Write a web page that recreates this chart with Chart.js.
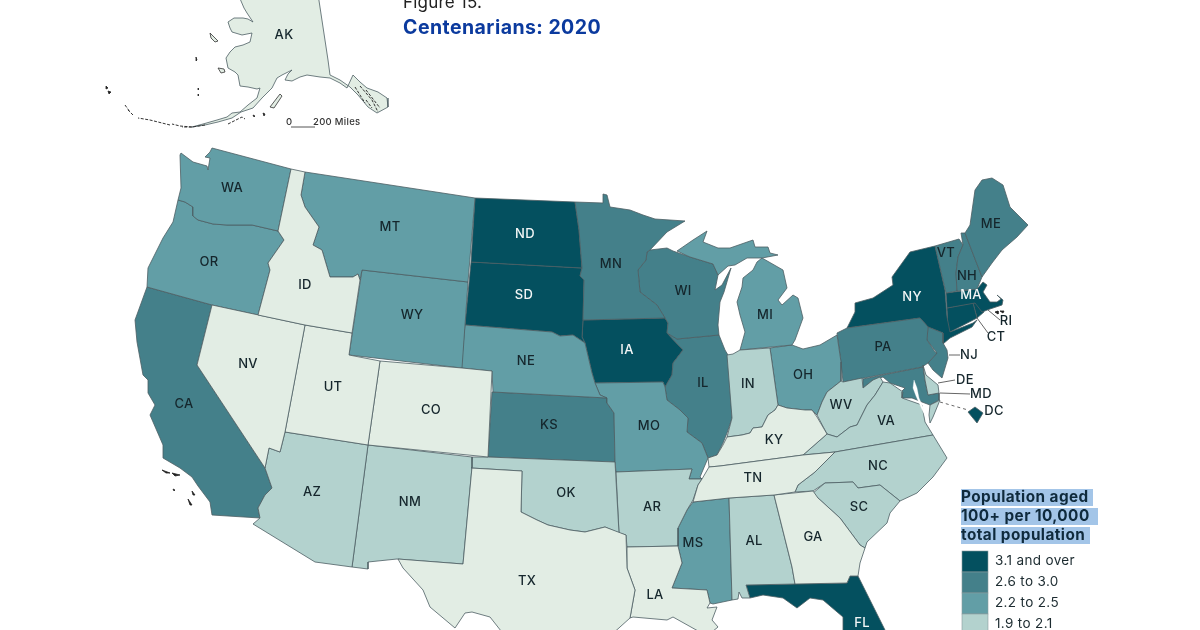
<!DOCTYPE html>
<html><head><meta charset="utf-8">
<style>html,body{margin:0;padding:0;background:#fff;overflow:hidden}canvas{display:block;filter:blur(0.35px)}</style>
<script src="https://cdn.jsdelivr.net/npm/chart.js@4"></script>
</head><body><canvas id="c" width="1200" height="630"></canvas>
<script>
const titleLines = ["Figure 15.", "Centenarians: 2020"];
const legendTitle = ["Population aged", "100+ per 10,000", "total population"];
const binLabels = ["3.1 and over", "2.6 to 3.0", "2.2 to 2.5", "1.9 to 2.1", "Under 1.9"];
const bin0States = ["ND","SD","IA","NY","MA","CT","RI","DC","FL"];
const bin1States = ["CA","MN","WI","IL","KS","PA","ME","NH","VT","NJ","MD"];
const bin2States = ["WA","OR","MT","WY","NE","MO","MI","MI2","OH","MS"];
const bin3States = ["AZ","NM","OK","AR","AL","SC","NC","VA","VAE","WV","IN","DE"];
const bin4States = ["AK","ID","NV","UT","CO","TX","LA","TN","KY","GA"];

// Outlines, in the map's own x,y units.
const outlines = {
AK:[238,-6,244,8,247,13,253,22,248,19,243,18,234,18,228,22,230,28,232,32,242,35,252,33,250,42,243,45,235,47,230,52,226,58,228,68,235,72,238,75,240,86,248,87,257,89,260,88,257,98,248,105,240,112,232,113,227,117,217,120,203,124,192,127,205,125,218,122,232,118,241,112,253,108,262,98,272,88,277,78,282,75,292,70,288,74,285,80,292,81,300,77,307,75,320,77,330,78,340,83,347,88,353,75,360,82,367,88,378,92,387,98,388,107,377,113,368,107,358,95,350,87,340,80,330,75,328,60,318,-6],
WA:[212,148,291,169,278,231,252,225,227,225,213,224,198,220,193,216,193,207,185,202,178,200,181,188,180,155,181,153,193,162,207,166,208,170,210,158,205,157,210,152],
OR:[178,200,185,202,193,207,193,216,198,220,213,224,227,225,252,225,278,231,284,240,268,263,270,270,258,315,212,305,147,287,148,268,163,238,173,222],
CA:[147,287,212,305,197,365,265,468,272,488,265,495,258,508,260,518,212,515,210,502,198,486,192,477,180,468,163,458,163,445,150,415,155,405,148,393,148,380,143,375,137,342,135,320],
NV:[212,305,305,325,292,395,285,432,280,452,269,448,265,468,197,365],
ID:[291,169,305,172,301,195,305,207,319,227,313,245,322,250,330,277,353,277,358,274,360,280,352,333,305,325,258,315,270,270,268,263,284,240,278,231],
MT:[305,172,475,198,468,282,362,270,360,280,358,274,353,277,330,277,322,250,313,245,319,227,305,207,301,195],
WY:[362,270,468,282,462,368,349,355],
UT:[305,325,352,333,349,355,380,361,368,445,285,432],
CO:[380,361,462,368,492,371,488,457,368,445],
AZ:[285,432,368,445,352,567,315,562,253,524,260,518,258,508,265,495,272,488,265,468,269,448,280,452],
NM:[368,445,472,457,472,467,463,564,397,559,368,562,368,569,352,567],
TX:[472,467,471,468,522,471,521,512,537,520,548,525,570,530,585,532,605,527,626,535,627,568,635,590,630,618,610,636,505,636,490,617,472,612,465,613,455,628,430,607,423,590,403,568,398,559,463,564],
OK:[472,457,488,457,615,462,619,533,605,527,585,532,570,530,548,525,537,520,521,512,522,471,471,468],
KS:[492,392,607,398,607,403,614,413,615,462,488,457],
NE:[465,325,552,332,560,336,573,335,585,343,592,373,595,383,600,395,607,398,493,392,492,371,461,368],
SD:[471,262,582,268,580,276,584,280,583,320,582,337,585,343,573,335,560,336,552,332,465,325],
ND:[475,198,575,202,579,230,582,268,471,262],
MN:[575,202,603,203,603,194,607,195,610,207,630,210,643,215,655,219,685,221,667,232,650,250,647,252,646,260,638,270,640,292,657,305,665,318,583,320,584,280,580,276,582,268,579,230],
IA:[583,320,665,318,668,323,667,333,683,350,673,363,672,375,665,387,663,382,595,383,592,373,585,343,582,337],
MO:[595,383,663,382,665,387,667,400,680,410,688,418,687,432,702,443,708,458,700,477,702,479,689,479,692,469,616,472,615,462,614,413,607,403,607,398,600,395],
AR:[616,472,692,469,689,479,702,479,698,485,693,500,687,510,678,528,678,546,627,547,626,535,619,533],
LA:[627,547,678,546,682,563,672,588,707,590,710,603,707,608,717,607,712,620,718,627,707,636,673,617,667,620,633,617,630,618,635,590,627,568],
MS:[693,502,729,498,732,600,713,604,710,603,707,590,672,588,682,563,678,546,678,528,687,510],
AL:[729,498,774,495,792,567,795,584,746,585,750,598,742,598,739,592,738,599,732,600],
GA:[774,495,813,491,818,498,840,518,860,545,865,548,860,563,858,576,850,576,847,583,795,584,792,567],
FL:[746,585,795,584,847,583,850,576,858,576,885,630,889,640,845,640,843,630,843,617,823,600,810,598,797,608,783,598,763,595,750,598],
SC:[813,493,825,483,853,482,858,488,880,485,900,501,890,513,887,523,867,542,865,548,860,545,840,518,818,498],
NC:[835,452,933,435,947,458,933,477,917,493,900,501,880,485,858,488,853,482,825,483,813,491,795,492,798,485,815,472],
TN:[693,502,698,485,702,479,709,467,720,466,803,455,835,452,815,472,798,485,795,492,774,495,729,498],
KY:[708,458,709,467,720,466,803,455,827,434,817,417,812,410,805,410,787,408,778,405,775,410,768,415,762,427,753,428,750,433,742,435,727,437,723,445,717,455],
IL:[677,339,719,335,725,350,728,355,732,418,727,433,723,443,717,455,708,458,702,443,687,432,688,418,680,410,667,400,665,387,672,375,673,363,683,350,667,333],
WI:[650,250,667,248,673,251,690,257,713,264,718,275,715,290,722,285,731,268,724,292,720,302,718,325,719,335,677,339,667,333,668,323,665,318,657,305,640,292,638,270,646,260,647,252],
MI:[677,251,693,240,707,231,703,242,718,248,730,248,753,240,755,247,768,247,770,253,778,255,762,258,747,258,735,265,728,266,718,275,713,264,690,257],
MI2:[762,258,757,262,753,270,743,278,742,287,737,302,740,315,745,332,740,350,792,345,795,340,803,318,798,298,793,295,782,305,778,300,787,288,783,270],
OH:[770,348,792,345,803,349,820,345,837,335,841,362,841,381,827,392,822,402,817,415,812,410,805,410,787,408,778,405],
IN:[727,355,733,354,740,350,770,348,778,405,775,410,768,415,762,427,753,428,750,433,742,435,727,437,732,418],
WV:[841,381,843,382,862,378,863,388,873,380,880,377,883,382,875,395,867,405,857,425,850,427,837,437,827,434,817,415,822,402,827,392],
VA:[803,455,827,434,837,437,850,427,857,425,867,405,875,395,883,382,890,383,903,392,902,398,922,405,925,422,933,435,835,452],
VAE:[930,405,940,400,933,417,930,423,929,415],
PA:[837,333,847,328,920,318,928,327,927,340,935,352,937,353,928,363,922,367,843,382,841,362],
NY:[847,328,855,312,855,303,873,298,893,285,892,277,910,252,935,246,945,290,947,317,950,332,973,323,977,320,972,327,950,338,943,344,943,333,928,327,920,318],
NJ:[928,327,943,333,943,343,947,350,948,358,942,378,933,370,928,363,937,353,927,340],
CT:[947,308,973,303,977,318,948,333],
MA:[946,293,977,289,983,282,987,285,983,292,990,302,997,302,1001,299,997,295,1003,300,1002,305,990,309,982,312,975,303,947,308],
RI:[973,303,981,303,984,312,977,318],
VT:[935,246,959,239,963,245,958,257,956,273,957,291,946,293],
NH:[961,233,965,233,982,277,977,289,957,291,956,273,958,257,963,245],
ME:[965,233,970,225,975,190,982,180,992,178,1003,185,1010,207,1028,225,1017,237,1002,250,992,263,982,277],
DE:[923,365,926,375,938,385,939,393,928,395,925,380],
MD:[863,379,923,367,925,380,928,395,939,393,939,400,930,405,922,402,912,398,903,398,901,392,905,388,890,383,883,377,873,380,863,388],
DC:[975,407,983,413,977,423,968,412]
};
const waterShapes = [
 [914,380,917,388,919,398,923,407,926,414,928,424,925,416,920,405,916,396,913,388]
];
const leaderLines = [
 [949,355,960,355],[938,383,955,380],[940,393,970,394],[988,310,1000,320],[977,318,988,333]
];
const dashedLines = [[940,402,968,410]];
const outlinedIslands = [
 [210,33,213,36,218,41,215,42,211,38],[218,68,224,69,225,72,221,73],[270,107,280,94,282,96,274,108]
];
const darkIslands = [
 [162,470,170,473,166,473],[172,473,180,475,175,476],[173,489,175,490,174,491],[192,491,195,495,193,495],[188,499,192,505,190,505],
 [196,57,197,60,196,61],[198,88,199,89,198,90],[198,94,199,95,198,96],[106,86,108,88,106,89],[108,91,111,92,109,94],
 [253,115,255,116,254,117],[263,113,265,114,264,116],[1000,311,1004,311,1003,313],[995,312,998,311,998,314]
];
const chainLines = [
 [192,127,180,126,172,124],[170,125,150,120,138,118],[133,115,128,110],[125,105,130,112],
 [355,87,365,103],[360,86,372,100,378,112],[366,90,380,108],[366,100,372,108],
 [228,124,242,117,245,119],[205,125,192,127,182,127]
];
// Label text and where it sits on the map
const stateLabels = [
["AK",284,35],["WA",232,188],["MT",390,227],["ND",525,234],["MN",611,264],["ME",991,224],["VT",946,253],["NH",967,276],["MA",971,295],["NY",912,297],["RI",1006,321],["CT",996,337],["NJ",969,355],["OR",209,262],["ID",305,285],["WY",412,315],["SD",524,295],["IA",627,350],["WI",683,291],["MI",765,315],["PA",883,347],["NE",526,361],["NV",248,364],["UT",333,387],["CO",431,410],["IL",703,383],["IN",748,384],["OH",803,375],["DE",965,380],["MD",981,394],["DC",994,411],["WV",841,405],["VA",886,421],["KS",549,425],["MO",649,426],["KY",774,440],["CA",184,404],["AZ",312,492],["NM",410,502],["OK",566,493],["AR",652,507],["TN",753,478],["NC",878,466],["SC",859,507],["MS",693,543],["AL",754,541],["GA",813,537],["TX",527,581],["LA",655,595],["FL",862,623]
];
const lightLabels = ["ND","SD","IA","NY","MA","FL"];

const binColors = ["#04505f","#44808a","#629ea6","#b3d2ce","#e2ede4"];
const strokeColor = "#4c5e63";
const pts = a => { const r=[]; for(let i=0;i<a.length;i+=2) r.push({x:a[i],y:a[i+1]}); return r; };
const closed = a => pts(a.concat([a[0],a[1]]));
const datasets = [];
[bin4States,bin3States,bin2States,bin1States,bin0States].forEach((list,k)=>{
  const bin = 4-k;
  list.forEach(s=>datasets.push({label:s,data:closed(outlines[s]),showLine:true,fill:'shape',
    backgroundColor:binColors[bin],borderColor:strokeColor,borderWidth:0.8,pointRadius:0,tension:0,order:0}));
});
waterShapes.forEach(w=>datasets.push({label:'water',data:closed(w),showLine:true,fill:'shape',backgroundColor:'#fff',borderColor:'#fff',borderWidth:0.3,pointRadius:0,order:-1}));
outlinedIslands.forEach(w=>datasets.push({label:'island',data:closed(w),showLine:true,fill:'shape',backgroundColor:'#e2ede4',borderColor:'#333',borderWidth:0.8,pointRadius:0,order:-1}));
darkIslands.forEach(w=>datasets.push({label:'island',data:closed(w),showLine:true,fill:'shape',backgroundColor:'#222',borderColor:'#222',borderWidth:0.8,pointRadius:0,order:-1}));
chainLines.forEach(w=>datasets.push({label:'chain',data:pts(w),showLine:true,fill:false,borderColor:'#333',borderWidth:1,borderDash:[3,1.5],pointRadius:0,order:-1}));
leaderLines.forEach(w=>datasets.push({label:'leader',data:pts(w),showLine:true,fill:false,borderColor:'#666',borderWidth:1,pointRadius:0,order:-1}));
dashedLines.forEach(w=>datasets.push({label:'leader',data:pts(w),showLine:true,fill:false,borderColor:'#666',borderWidth:1,borderDash:[3,3],pointRadius:0,order:-1}));

const FONT = 'Inter, "Open Sans", sans-serif';
const textPlugin = {id:'mapText',afterDraw(chart){
  const c=chart.ctx, X=chart.scales.x, Y=chart.scales.y;
  const px=v=>X.getPixelForValue(v), py=v=>Y.getPixelForValue(v);
  c.save();
  c.textBaseline='middle'; c.textAlign='center';
  c.font='500 13px '+FONT; c.letterSpacing='0.3px';
  stateLabels.forEach(([t,x,y])=>{ c.fillStyle=lightLabels.includes(t)?'#f2f6f6':'#15262c'; c.fillText(t,px(x),py(y)); });
  c.textAlign='left';
  c.font='500 9.5px '+FONT; c.fillStyle='#333';
  c.fillText('0',px(286),py(122)); c.fillText('200 Miles',px(313),py(122));
  c.strokeStyle='#555'; c.lineWidth=1; c.beginPath(); c.moveTo(px(291),py(127)); c.lineTo(px(315),py(127)); c.stroke();
  c.font='400 17px '+FONT; c.letterSpacing='0.2px'; c.fillStyle='#222'; c.fillText(titleLines[0],px(403),py(3));
  c.font='700 19.5px '+FONT; c.letterSpacing='0.45px'; c.fillStyle='#0b3a9e'; c.fillText(titleLines[1],px(403),py(28));
  const hl=[[961,489,132,17],[961,508,137,17],[961,527,129,17]];
  c.fillStyle='#a3c5e8'; hl.forEach(b=>c.fillRect(px(b[0]),py(b[1]),b[2],b[3]));
  c.font='700 15.3px '+FONT; c.letterSpacing='0.45px'; c.fillStyle='#0f2a3c';
  legendTitle.forEach((t,i)=>c.fillText(t,px(961),py(497.5+19*i)));
  const rows=[551,572,593,614];
  c.font='400 13.5px '+FONT; c.letterSpacing='0.35px';
  rows.forEach((y,i)=>{ c.fillStyle=binColors[i]; c.fillRect(px(962),py(y),26,y===614?18:21);
    c.strokeStyle='#8a9a9d'; c.lineWidth=0.6; c.strokeRect(px(962),py(y),26,y===614?18:21);
    c.fillStyle='#1c2b30'; c.fillText(binLabels[i],px(995),py(y+10)); });
  c.restore();
}};
new Chart(document.getElementById('c'),{type:'scatter',data:{datasets},plugins:[textPlugin],options:{
  responsive:false,animation:false,events:[],devicePixelRatio:1,
  layout:{padding:0},
  plugins:{legend:{display:false},tooltip:{enabled:false},title:{display:false}},
  scales:{x:{type:'linear',min:0,max:1200,display:false},y:{type:'linear',min:0,max:630,reverse:true,display:false}}
}});
</script></body></html>
